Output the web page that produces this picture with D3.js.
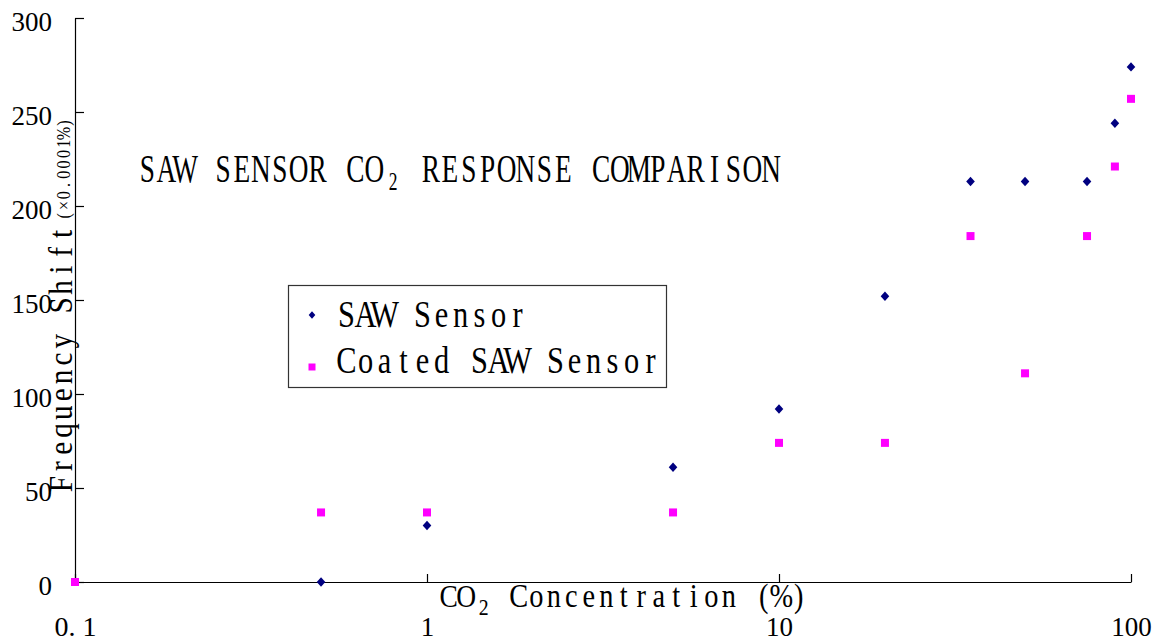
<!DOCTYPE html>
<html>
<head>
<meta charset="utf-8">
<script src="https://cdn.jsdelivr.net/npm/d3@7"></script>
<style>
  html, body { margin: 0; padding: 0; background: #fff; }
  svg { display: block; }
  text { font-family: "Liberation Serif", "Times New Roman", serif; fill: #000; }
</style>
</head>
<body>
<svg id="chart" width="1163" height="641"></svg>
<script>
// CO2 concentration (%) on a log axis
const concentrations = [0.1, 0.5, 1, 5, 10, 20, 35, 50, 75, 90, 100];
// Frequency shift (x0.0001%) per sensor; null = no reading
const sawSensor    = [null, 0, 30, 61, 92, 152, 213, 213, 213, 244, 274];
const coatedSensor = [0, 37, 37, 37, 74, 74, 184, 111, 184, 221, 257];

const xTickValues = [0.1, 1, 10, 100];
const xTickLabels = ["0. 1", "1", "10", "100"];
const yTickValues = [0, 50, 100, 150, 200, 250, 300];

const seriesNames = ["SAW Sensor", "Coated SAW Sensor"];
const navy = "#000080", magenta = "#ff00ff";

const svg = d3.select("#chart");

const x = d3.scaleLog().domain([0.1, 100]).range([75, 1131]);
const y = d3.scaleLinear().domain([0, 300]).range([582, 18]);

// Fixed-pitch text: every character sits centred in a cell of width `pitch`,
// glyphs condensed horizontally by `sx`. `parts` lets a run drop to a subscript.
function monoText(parent, transform, parts, pitch, sx) {
  const g = parent.append("g").attr("transform", `${transform} scale(${sx},1)`);
  const t = g.append("text").attr("text-anchor", "middle");
  let cell = 0, prevDy = 0;
  parts.forEach(p => {
    const xs = Array.from(p.str, (_, i) => ((cell + i + 0.5) * pitch) / sx);
    const dy = (p.dy || 0) - prevDy;
    t.append("tspan")
      .attr("x", xs.join(" "))
      .attr("dy", dy)
      .attr("font-size", p.size)
      .text(p.str);
    prevDy = p.dy || 0;
    cell += p.str.length;
  });
  return t;
}

// Y axis (ticks point into the plot)
const yAxis = svg.append("g")
  .attr("transform", `translate(${x(0.1)},0)`)
  .call(d3.axisLeft(y).tickValues(yTickValues).tickSize(-9).tickSizeOuter(0).tickPadding(23));
yAxis.selectAll("text")
  .attr("font-family", "Liberation Serif")
  .attr("font-size", 27)
  .attr("dy", "12px")
  .attr("fill", "#000");
yAxis.selectAll("line, path").attr("stroke", "#000").attr("stroke-width", 1.2);

// X axis (log, decade ticks only)
const xAxis = svg.append("g")
  .attr("transform", `translate(0,${y(0)})`)
  .call(d3.axisBottom(x).tickValues(xTickValues)
    .tickFormat((d, i) => xTickLabels[i])
    .tickSize(-8).tickSizeOuter(0).tickPadding(0));
xAxis.selectAll("text")
  .attr("font-family", "Liberation Serif")
  .attr("font-size", 27)
  .attr("y", 54)
  .attr("dy", 0)
  .attr("fill", "#000");
xAxis.selectAll("line, path").attr("stroke", "#000").attr("stroke-width", 1.2);
xAxis.selectAll(".tick text").filter(d => d === 0.1)
  .attr("textLength", 42).attr("lengthAdjust", "spacingAndGlyphs");

// Axis titles
monoText(svg, "translate(440,607)", [
  { str: "CO", size: 32 },
  { str: "2", size: 23, dy: 8 },
  { str: " Concentration (%)", size: 33 }
], 17.5, 0.86);

monoText(svg, "translate(72,493) rotate(-90)", [
  { str: "Frequency Shift", size: 34 }
], 17.87, 0.86);
monoText(svg, "translate(70,221) rotate(-90)", [
  { str: "(×0.0001%)", size: 19 }
], 10.3, 0.85);

// Chart heading
monoText(svg, "translate(138,182)", [
  { str: "SAW SENSOR CO", size: 39 },
  { str: "2", size: 25, dy: 8 },
  { str: " RESPONSE COMPARISON", size: 39 }
], 18.9, 0.7);

// Markers
const diamond = (cx, cy, r) =>
  `M${cx},${cy - r * 1.1}L${cx + r},${cy}L${cx},${cy + r * 1.1}L${cx - r},${cy}Z`;

const sawPts = concentrations.map((c, i) => ({ c, v: sawSensor[i] })).filter(d => d.v !== null);
const coatPts = concentrations.map((c, i) => ({ c, v: coatedSensor[i] })).filter(d => d.v !== null);

svg.append("g").selectAll("path")
  .data(sawPts).join("path")
  .attr("d", d => diamond(x(d.c), y(d.v), 4.3))
  .attr("fill", navy);

svg.append("g").selectAll("rect")
  .data(coatPts).join("rect")
  .attr("x", d => x(d.c) - 4)
  .attr("y", d => y(d.v) - 4)
  .attr("width", 8).attr("height", 8)
  .attr("fill", magenta);

// Legend
const legend = svg.append("g");
legend.append("rect")
  .attr("x", 288.5).attr("y", 285.5).attr("width", 378).attr("height", 102)
  .attr("fill", "#fff").attr("stroke", "#333").attr("stroke-width", 1.2);
legend.append("path").attr("d", diamond(312, 315, 3.3)).attr("fill", navy);
legend.append("rect").attr("x", 308.5).attr("y", 363.5).attr("width", 7).attr("height", 7).attr("fill", magenta);
monoText(legend, "translate(337,327)", [{ str: seriesNames[0], size: 38 }], 19, 0.8);
monoText(legend, "translate(337,373)", [{ str: seriesNames[1], size: 38 }], 19, 0.8);
</script>
</body>
</html>
